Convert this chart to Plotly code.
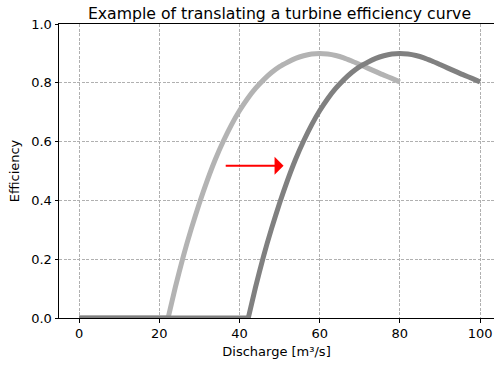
import plotly.graph_objects as go

# Original efficiency curve
discharge = [0, 22.2, 24, 26, 28, 30, 32, 34, 36, 38, 40, 42, 44, 46, 48, 50,
             52, 54, 56, 58, 60, 62, 64, 66, 68, 70, 72, 74, 76, 78, 80]
efficiency = [0.0, 0.0, 0.104, 0.210, 0.304, 0.390, 0.469, 0.540, 0.602, 0.657,
              0.705, 0.746, 0.781, 0.810, 0.835, 0.855, 0.870, 0.883, 0.892,
              0.898, 0.900, 0.898, 0.893, 0.885, 0.874, 0.862, 0.850, 0.838,
              0.826, 0.815, 0.803]
shift = 20  # translation of the curve [m3/s]

# Translated curve: flat zero from 0, then the original shifted by `shift`
discharge_shifted = [0] + [q + shift for q in discharge]
efficiency_shifted = [0.0] + efficiency

x_ticks = [0, 20, 40, 60, 80, 100]
y_ticks = [0.0, 0.2, 0.4, 0.6, 0.8, 1.0]
arrow_start = (36.2, 0.518)
arrow_end = (51.0, 0.518)

font = "DejaVu Sans"


def add_curve(fig, xs, ys, color):
    # flat (zero) part drawn straight, the rising/falling part smoothed
    k = max(i for i, v in enumerate(ys) if v == 0)
    fig.add_trace(go.Scatter(x=xs[:k + 1], y=ys[:k + 1], mode="lines",
                             line=dict(color=color, width=5),
                             showlegend=False, hoverinfo="skip"))
    fig.add_trace(go.Scatter(x=xs[k:], y=ys[k:], mode="lines",
                             line=dict(color=color, width=5, shape="spline", smoothing=0.6),
                             showlegend=False, hoverinfo="skip"))


fig = go.Figure()
add_curve(fig, discharge, efficiency, "#b3b3b3")
add_curve(fig, discharge_shifted, efficiency_shifted, "#808080")

fig.add_annotation(x=arrow_end[0], y=arrow_end[1], ax=arrow_start[0], ay=arrow_start[1],
                   xref="x", yref="y", axref="x", ayref="y", text="",
                   showarrow=True, arrowhead=1, arrowsize=1.5, arrowwidth=2,
                   arrowcolor="red", standoff=0, startstandoff=0)

grid = dict(showgrid=True, gridcolor="#b0b0b0", gridwidth=0.8, griddash="3px,1.5px")

fig.update_layout(
    width=494, height=365,
    margin=dict(l=59, r=0, t=24, b=47),
    plot_bgcolor="white", paper_bgcolor="white",
    font=dict(family=font, size=13, color="black"),
    title=dict(text="Example of translating a turbine efficiency curve",
               font=dict(family=font, size=15.7, color="black"),
               x=(59 + 500) / 2 / 494, xanchor="center",
               y=1 - 13.5 / 365, yanchor="middle", yref="container"),
    xaxis=dict(range=[-5, 103.48], tickvals=x_ticks, ticktext=[str(v) for v in x_ticks],
               ticks="outside", ticklen=3.5, tickwidth=0.8, tickcolor="black",
               showline=True, linecolor="black", linewidth=1, mirror=True,
               zeroline=False,
               title=dict(text="Discharge [m³/s]", standoff=6,
                          font=dict(family=font, size=13, color="black")),
               tickfont=dict(family=font, size=13, color="black"), **grid),
    yaxis=dict(range=[0, 1], tickvals=y_ticks, ticktext=[f"{v:.1f}" for v in y_ticks],
               ticks="outside", ticklen=3.5, tickwidth=0.8, tickcolor="black",
               showline=True, linecolor="black", linewidth=1,
               zeroline=False,
               title=dict(text="Efficiency", standoff=8,
                          font=dict(family=font, size=13, color="black")),
               tickfont=dict(family=font, size=13, color="black"), **grid),
)

fig.write_html("out.html")
